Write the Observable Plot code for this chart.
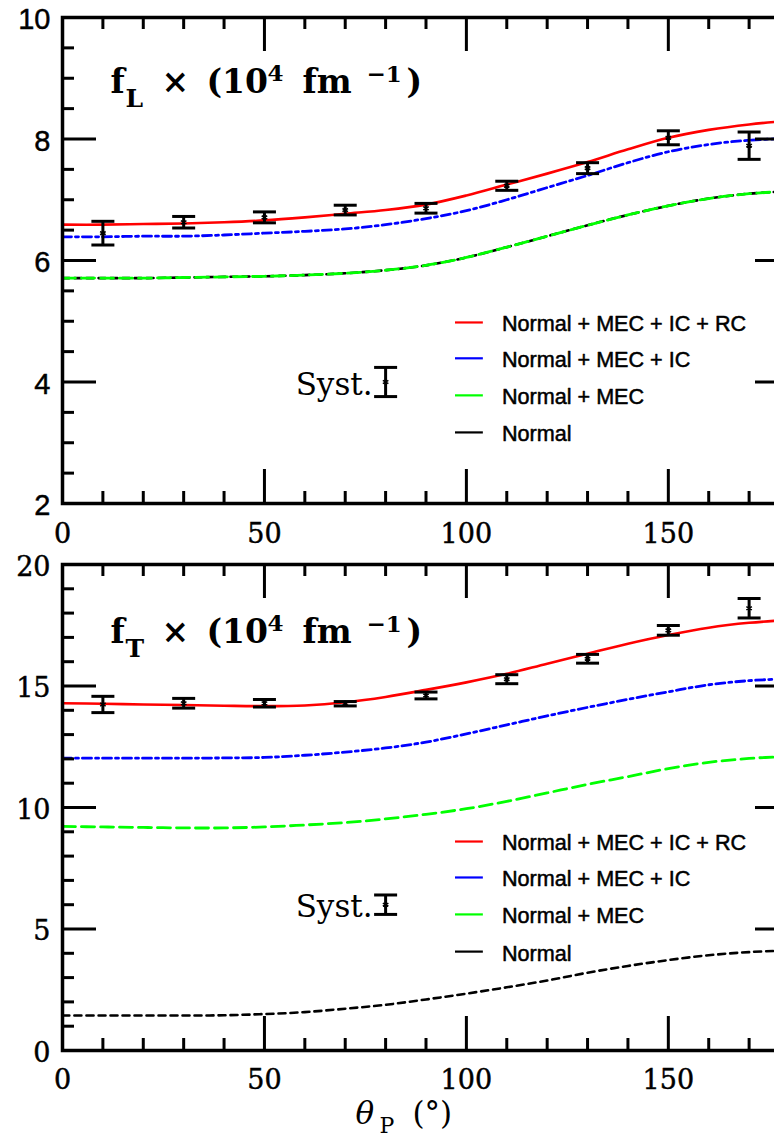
<!DOCTYPE html>
<html><head><meta charset="utf-8">
<script src="https://cdn.jsdelivr.net/npm/d3@7"></script>
<script src="https://cdn.jsdelivr.net/npm/@observablehq/plot@0.6"></script>
<style>
html,body{margin:0;padding:0;background:#fff;overflow:hidden;}
#wrap{width:774px;height:1136px;overflow:hidden;position:relative;background:#fff;}
#wrap svg{display:block;}
#wrap svg.bottom-panel{margin-top:-13px;}
#wrap g[aria-label$="tick label"] text{stroke:#000;stroke-width:0.45px;}
</style></head><body><div id="wrap"></div>
<script>
// ---------- data ----------
const theta = [10, 30, 50, 70, 90, 110, 130, 150, 170];
const fL    = [6.45, 6.63, 6.71, 6.83, 6.86, 7.23, 7.52, 8.02, 7.89];
const fLerr = [0.195, 0.095, 0.09, 0.08, 0.08, 0.075, 0.09, 0.115, 0.225];
const fT    = [14.24, 14.29, 14.29, 14.27, 14.61, 15.28, 16.12, 17.29, 18.2];
const fTerr = [0.335, 0.2, 0.155, 0.09, 0.14, 0.185, 0.18, 0.2, 0.4];

const thetaGrid = [0, 10, 20, 30, 40, 50, 60, 70, 80, 90, 100, 110, 120, 130, 140, 150, 160, 170, 180];
// f_L curves
const fL_full   = [6.59, 6.59, 6.60, 6.61, 6.63, 6.66, 6.71, 6.77, 6.83, 6.92, 7.07, 7.25, 7.43, 7.62, 7.83, 8.02, 8.15, 8.24, 8.30];
const fL_mecic  = [6.39, 6.39, 6.40, 6.40, 6.42, 6.45, 6.48, 6.52, 6.59, 6.69, 6.82, 7.00, 7.20, 7.40, 7.61, 7.79, 7.91, 7.98, 8.01];
const fL_mec    = [5.71, 5.71, 5.71, 5.72, 5.73, 5.74, 5.76, 5.79, 5.84, 5.92, 6.05, 6.22, 6.40, 6.58, 6.75, 6.90, 7.02, 7.10, 7.14];
const fL_normal = [5.71, 5.71, 5.71, 5.72, 5.73, 5.74, 5.76, 5.79, 5.84, 5.92, 6.05, 6.22, 6.40, 6.58, 6.75, 6.90, 7.02, 7.10, 7.14];
// f_T curves
const fT_full   = [14.29, 14.27, 14.24, 14.22, 14.19, 14.17, 14.20, 14.33, 14.55, 14.84, 15.15, 15.50, 15.92, 16.33, 16.74, 17.10, 17.40, 17.60, 17.72];
const fT_mecic  = [12.03, 12.03, 12.03, 12.03, 12.04, 12.06, 12.15, 12.28, 12.45, 12.69, 13.03, 13.40, 13.77, 14.12, 14.45, 14.76, 15.05, 15.22, 15.30];
const fT_mec    = [9.22, 9.20, 9.18, 9.16, 9.16, 9.20, 9.28, 9.38, 9.53, 9.72, 9.95, 10.25, 10.60, 10.95, 11.27, 11.60, 11.86, 12.02, 12.10];
const fT_normal = [1.44, 1.44, 1.44, 1.44, 1.45, 1.50, 1.58, 1.72, 1.88, 2.10, 2.34, 2.60, 2.88, 3.20, 3.48, 3.72, 3.92, 4.05, 4.12];

const seriesNames = ["Normal + MEC + IC + RC", "Normal + MEC + IC", "Normal + MEC", "Normal"];

// systematic error markers
const systL = [{theta: 80, v: 4.0, e: 0.24}];
const systT = [{theta: 80, v: 6.0, e: 0.4}];

// tick values / labels
const xTicks = [0, 50, 100, 150];
const xMinorTicks = [10, 20, 30, 40, 60, 70, 80, 90, 110, 120, 130, 140, 160, 170];
const yTicksL = [2, 4, 6, 8, 10];
const yMinorL = [2.5, 3, 3.5, 4.5, 5, 5.5, 6.5, 7, 7.5, 8.5, 9, 9.5];
const yTicksT = [0, 5, 10, 15, 20];
const yMinorT = [1, 2, 3, 4, 6, 7, 8, 9, 11, 12, 13, 14, 16, 17, 18, 19];

// ---------- styling / layout ----------
const seriesColors = ["#ff0000", "#0000ff", "#00ff00", "#000000"];
const seriesDash = [null, "9,4,3,4", "13,6", "7,5"];
const seriesWidth = [2.6, 2.8, 2.8, 2.6];
const W = 790, ML = 62, MR = 1, FRAME_W = W - ML - MR, FRAME_H = 486;
const MAJOR = 34, MINOR = 12;

const capSymbol = {draw(ctx, size) { const w = Math.sqrt(size / Math.PI); ctx.moveTo(-w, 0); ctx.lineTo(w, 0); }};

function tickMarks(yMajor, yMinor) {
  const st = {stroke: "black", strokeWidth: 3};
  const m = [];
  for (const [vals, len] of [[xTicks, MAJOR], [xMinorTicks, MINOR]]) {
    m.push(Plot.ruleX(vals, {x: d => d, insetTop: FRAME_H - len, ...st}));
    m.push(Plot.ruleX(vals, {x: d => d, insetBottom: FRAME_H - len, ...st}));
  }
  for (const [vals, len] of [[yMajor, MAJOR], [yMinor, MINOR]]) {
    m.push(Plot.ruleY(vals, {y: d => d, insetRight: FRAME_W - len, ...st}));
    m.push(Plot.ruleY(vals, {y: d => d, insetLeft: FRAME_W - len, ...st}));
  }
  return m;
}

function panel(cfg) {
  const curves = cfg.curves.map(vals => thetaGrid.map((t, i) => ({theta: t, v: vals[i]})));
  const pts = theta.map((t, i) => ({theta: t, v: cfg.vals[i], e: cfg.errs[i]}));
  const marks = [];
  for (let k = curves.length - 1; k >= 0; --k) {
    marks.push(Plot.line(curves[k], {x: "theta", y: "v", stroke: seriesColors[k], strokeWidth: seriesWidth[k],
      strokeDasharray: seriesDash[k], curve: "catmull-rom", clip: true}));
  }
  const errMarks = (data) => [
    Plot.ruleX(data, {x: "theta", y1: d => d.v - d.e, y2: d => d.v + d.e, stroke: "black", strokeWidth: 3}),
    Plot.dot(data, {x: "theta", y: d => d.v + d.e, symbol: capSymbol, r: 11.5, stroke: "black", strokeWidth: 3, fill: "none"}),
    Plot.dot(data, {x: "theta", y: d => d.v - d.e, symbol: capSymbol, r: 11.5, stroke: "black", strokeWidth: 3, fill: "none"}),
    Plot.dot(data, {x: "theta", y: "v", symbol: "asterisk", r: 3, stroke: "black", strokeWidth: 1.6})
  ];
  marks.push(...errMarks(pts));
  marks.push(...errMarks(cfg.syst));
  marks.push(Plot.text(cfg.syst, {x: "theta", y: "v", text: () => "Syst.", textAnchor: "end", lineAnchor: "middle",
    dx: -13, dy: cfg.systDy, fontSize: 31, fontFamily: "DejaVu Serif", fill: "black"}));
  seriesNames.forEach((name, i) => {
    marks.push(Plot.ruleY([cfg.legendY[i]], {y: d => d, x1: 97.3, x2: 104.2, stroke: seriesColors[i], strokeWidth: 2.2}));
    marks.push(Plot.text([cfg.legendY[i]], {y: d => d, x: 108.8, text: () => name, textAnchor: "start", lineAnchor: "middle",
      dy: 2, fontSize: 21.6, fontFamily: "Liberation Sans", fill: "black", stroke: "black", strokeWidth: 0.5}));
  });
  marks.push(Plot.text([0], {frameAnchor: "top-left", text: () => cfg.labelKey, textAnchor: "start", lineAnchor: "bottom",
    dx: 48, dy: cfg.labelDy, fontSize: 33, fontFamily: "DejaVu Serif", fontWeight: "bold", fill: "black"}));
  if (cfg.xTitle) {
    marks.push(Plot.text([0], {frameAnchor: "bottom", text: () => "@XTITLE", textAnchor: "start", lineAnchor: "bottom",
      dx: -70.5, dy: 73, fontSize: 31, fontFamily: "DejaVu Serif", fill: "black"}));
  }
  marks.push(...tickMarks(cfg.yMajor, cfg.yMinor));
  marks.push(Plot.frame({stroke: "black", strokeWidth: 3.5}));
  marks.push(Plot.axisX({ticks: xTicks, tickSize: 0, tickPadding: cfg.xPad, label: null, fontSize: 27,
    fontFamily: "DejaVu Serif", tickFormat: d => String(d)}));
  marks.push(Plot.axisY({ticks: cfg.yMajor, tickSize: 0, tickPadding: 12, label: null, fontSize: cfg.yFontSize,
    fontFamily: cfg.yFont, dy: 2.5, tickFormat: d => String(d)}));
  return Plot.plot({
    width: W, height: cfg.height, marginLeft: ML, marginRight: MR, marginTop: cfg.marginTop, marginBottom: cfg.marginBottom,
    className: cfg.cls,
    x: {domain: [0, 180]},
    y: {domain: cfg.yDomain},
    style: {maxWidth: "none", background: cfg.bg, color: "black", fontFamily: "DejaVu Serif"},
    marks
  });
}

function setRich(svg, key, parts) {
  d3.select(svg).selectAll("text").filter(function () { return this.textContent === key; }).each(function () {
    const t = d3.select(this); t.text(null);
    let shift = 0;
    for (const p of parts) {
      const s = p.shift || 0;
      const ts = t.append("tspan").attr("dy", s - shift).text(p.t);
      shift = s;
      if (p.x != null) ts.attr("x", p.x);
      if (p.size) ts.attr("font-size", p.size);
      if (p.style) ts.attr("font-style", p.style);
    }
  });
}

const topPlot = panel({
  height: 560, marginTop: 17, marginBottom: 57, yDomain: [2, 10], yMajor: yTicksL, yMinor: yMinorL,
  yFont: "Liberation Sans", yFontSize: 29, xPad: 20, bg: "white", cls: "top-panel",
  curves: [fL_full, fL_mecic, fL_mec, fL_normal], vals: fL, errs: fLerr,
  syst: systL, systDy: 3, legendY: [4.98, 4.39, 3.78, 3.17], labelKey: "@LBL_L", labelDy: 75
});
const botPlot = panel({
  height: 589, marginTop: 17, marginBottom: 86, yDomain: [0, 20], yMajor: yTicksT, yMinor: yMinorT,
  yFont: "DejaVu Serif", yFontSize: 27, xPad: 19, bg: "transparent", cls: "bottom-panel",
  curves: [fT_full, fT_mecic, fT_mec, fT_normal], vals: fT, errs: fTerr,
  syst: systT, systDy: 2.5, legendY: [8.6, 7.12, 5.6, 4.07], labelKey: "@LBL_T", labelDy: 78, xTitle: true
});

const labelParts = (sub) => [
  {t: "f", x: 0}, {t: sub, size: 25, shift: 14, x: 15}, {t: "×", x: 51}, {t: "(10", x: 96},
  {t: "4", size: 23, shift: -12, x: 157}, {t: "fm", x: 192}, {t: "−1", size: 23, shift: -11, x: 256}, {t: ")", x: 296}
];
setRich(topPlot, "@LBL_L", labelParts("L"));
setRich(botPlot, "@LBL_T", labelParts("T"));
setRich(botPlot, "@XTITLE", [{t: "θ", style: "italic", x: 0}, {t: "P", size: 22, shift: 9, x: 24}, {t: "(°)", x: 57}]);

const wrap = document.getElementById("wrap");
wrap.appendChild(topPlot);
wrap.appendChild(botPlot);
</script></body></html>
